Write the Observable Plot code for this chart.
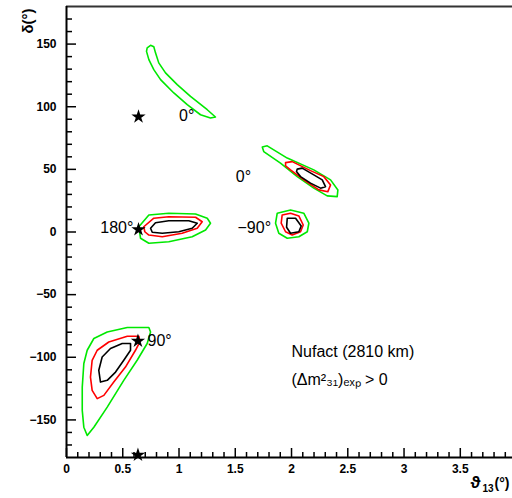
<!DOCTYPE html>
<html><head><meta charset="utf-8">
<script src="https://cdn.jsdelivr.net/npm/d3@7"></script>
<script src="https://cdn.jsdelivr.net/npm/@observablehq/plot@0.6"></script>
<style>
body{margin:0;background:#fff}
#chart{width:512px;height:498px;overflow:hidden}
</style>
</head><body><div id="chart"></div>
<script>
// ---- axis ticks ----
const xMajor = [0, 0.5, 1, 1.5, 2, 2.5, 3, 3.5];
const xMajorLabels = ["0", "0.5", "1", "1.5", "2", "2.5", "3", "3.5"];
const xMinor = [0.1,0.2,0.3,0.4,0.6,0.7,0.8,0.9,1.1,1.2,1.3,1.4,1.6,1.7,1.8,1.9,2.1,2.2,2.3,2.4,2.6,2.7,2.8,2.9,3.1,3.2,3.3,3.4,3.6,3.7,3.8,3.9];
const yMajor = [-150, -100, -50, 0, 50, 100, 150];
const yMajorLabels = ["−150", "−100", "−50", "0", "50", "100", "150"];
const yMinor = [-170,-160,-140,-130,-120,-110,-90,-80,-70,-60,-40,-30,-20,-10,10,20,30,40,60,70,80,90,110,120,130,140,160,170];

// ---- contours (theta13 [deg], delta [deg]) ----
const outerTop = [[0.717,147.0],[0.747,149.0],[0.776,147.8],[0.791,143.0],[0.820,135.0],[0.880,127.0],[0.984,117.6],[1.102,108.2],[1.251,97.6],[1.324,91.8],[1.280,91.0],[1.191,93.6],[1.073,101.6],[0.954,111.0],[0.836,121.6],[0.776,129.6],[0.732,137.6],[0.711,144.2]];

const outer180 = [[0.643,4.2],[0.732,13.6],[0.909,15.0],[1.147,14.4],[1.251,11.0],[1.280,7.0],[1.236,1.6],[1.117,-3.8],[0.909,-7.8],[0.732,-9.0],[0.658,-5.0]];
const middle180 = [[0.687,4.2],[0.776,11.0],[0.909,12.2],[1.147,11.8],[1.206,8.2],[1.162,3.0],[1.028,-1.0],[0.851,-3.8],[0.732,-2.4],[0.696,0.2]];
const inner180 = [[0.747,3.0],[0.791,7.4],[0.909,9.0],[1.087,9.0],[1.162,7.0],[1.117,3.0],[0.998,0.2],[0.851,-1.0],[0.762,-0.2]];

const outerM90 = [[1.873,15.0],[1.991,17.6],[2.109,15.0],[2.154,7.0],[2.140,0.2],[2.065,-3.8],[1.962,-5.0],[1.887,-1.0],[1.858,7.0]];
const middleM90 = [[1.917,13.6],[1.991,15.0],[2.065,12.8],[2.104,5.6],[2.080,0.2],[2.006,-2.4],[1.947,0.2],[1.908,7.0]];
const innerM90 = [[1.962,11.0],[2.036,11.0],[2.086,4.8],[2.065,0.2],[1.991,-1.0],[1.956,3.8]];

const outer0 = [[1.740,67.8],[1.784,68.8],[1.962,59.0],[2.198,49.6],[2.347,41.6],[2.412,33.6],[2.406,28.2],[2.317,28.8],[2.198,35.0],[2.051,44.2],[1.902,55.0],[1.753,64.2]];
const middle0 = [[1.947,55.4],[2.006,56.2],[2.169,49.0],[2.287,44.2],[2.347,37.6],[2.323,32.2],[2.243,33.6],[2.109,41.6],[1.991,49.6],[1.947,52.8]];
const inner0 = [[2.051,50.2],[2.095,51.0],[2.198,45.6],[2.273,41.6],[2.302,36.2],[2.258,35.0],[2.169,39.0],[2.080,44.2],[2.044,48.2]];

const outer90 = [[0.184,-162.4],[0.154,-155.8],[0.140,-142.4],[0.140,-123.8],[0.154,-105.0],[0.184,-94.4],[0.243,-85.0],[0.362,-79.8],[0.540,-76.2],[0.732,-76.2],[0.747,-79.8],[0.717,-89.0],[0.628,-102.4],[0.509,-118.4],[0.362,-139.8],[0.243,-155.8]];
const middle90 = [[0.273,-133.0],[0.228,-126.4],[0.213,-115.8],[0.228,-102.4],[0.273,-94.4],[0.376,-87.8],[0.540,-83.2],[0.643,-83.2],[0.652,-87.8],[0.613,-94.4],[0.524,-107.8],[0.420,-119.8],[0.332,-130.4]];
const inner90 = [[0.302,-119.8],[0.287,-110.4],[0.317,-99.8],[0.391,-93.0],[0.495,-89.0],[0.569,-89.0],[0.569,-94.4],[0.509,-102.4],[0.436,-111.8],[0.362,-118.4]];

const contourNames = ["outerTop","outer180","middle180","inner180","outerM90","middleM90","innerM90","outer0","middle0","inner0","outer90","middle90","inner90"];
const contourLevels = ["outer","outer","middle","inner","outer","middle","inner","outer","middle","inner","outer","middle","inner"];
const contourPoints = [outerTop,outer180,middle180,inner180,outerM90,middleM90,innerM90,outer0,middle0,inner0,outer90,middle90,inner90];

const levelNames = ["inner", "middle", "outer"];
const levelColors = ["#000000", "#ff0000", "#00e800"];

// ---- true points (stars) and labels ----
const starX = [0.64, 0.64, 0.635, 0.635];
const starY = [92, 2, -87, -178];

const labelText = ["0°", "0°", "180°", "−90°", "90°"];
const labelX = [1.0, 1.505, 0.3, 1.52, 0.72];
const labelY = [93, 44, 3, 3, -87];

const noteText = ["Nufact (2810 km)", "(Δm²₃₁)ₑₓₚ > 0"];
const noteX = [2.0, 2.0];
const noteY = [-96, -118];

// ---- build tables ----
const contourRows = [];
contourPoints.forEach((pts, i) => {
  pts.forEach(([x, y]) => contourRows.push({name: contourNames[i], level: contourLevels[i], x, y}));
});
const stars = starX.map((x, i) => ({x, y: starY[i]}));
const labels = labelText.map((t, i) => ({t, x: labelX[i], y: labelY[i]}));
const notes = noteText.map((t, i) => ({t, x: noteX[i], y: noteY[i]}));
const xFmt = d => xMajorLabels[xMajor.indexOf(d)];
const yFmt = d => yMajorLabels[yMajor.indexOf(d)];

const font = "'Liberation Sans', Arial, Helvetica, sans-serif";

const chart = Plot.plot({
  width: 512,
  height: 498,
  marginLeft: 66,
  marginRight: 0,
  marginTop: 6,
  marginBottom: 41,
  style: {fontFamily: font, fontSize: "12px", background: "white", color: "black"},
  x: {domain: [0, 3.964], axis: null},
  y: {domain: [-180, 180], axis: null},
  color: {domain: levelNames, range: levelColors},
  marks: [
    // contours
    Plot.line(contourRows, {x: "x", y: "y", z: "name", stroke: "level", strokeWidth: 1.6, curve: "linear-closed"}),
    // frame lines
    Plot.ruleY([180], {stroke: "#333", strokeWidth: 2}),
    Plot.ruleY([-180], {stroke: "black", strokeWidth: 2}),
    Plot.ruleX([0], {stroke: "black", strokeWidth: 2}),
    // y axis: labels, major ticks, minor ticks (inward)
    Plot.axisY(yMajor, {anchor: "left", label: null, tickSize: 0, tickPadding: 10, tickFormat: yFmt, fontSize: 12, fontWeight: "bold"}),
    Plot.axisY(yMajor, {anchor: "left", label: null, tickSize: 10, dx: 10, tickFormat: () => "", strokeWidth: 1.5}),
    Plot.axisY(yMinor, {anchor: "left", label: null, tickSize: 6, dx: 6, tickFormat: () => "", strokeWidth: 1.5}),
    // x axis
    Plot.axisX(xMajor, {anchor: "bottom", label: null, tickSize: 0, tickPadding: 7, tickFormat: xFmt, fontSize: 12, fontWeight: "bold"}),
    Plot.axisX(xMajor, {anchor: "bottom", label: null, tickSize: 9, dy: -9, tickFormat: () => "", strokeWidth: 1.5}),
    Plot.axisX(xMinor, {anchor: "bottom", label: null, tickSize: 5, dy: -5, tickFormat: () => "", strokeWidth: 1.5}),
    // stars
    Plot.dot(stars, {x: "x", y: "y", symbol: "star", fill: "black", r: 4.5}),
    // labels
    Plot.text(labels, {x: "x", y: "y", text: "t", textAnchor: "start", fontSize: 16}),
    Plot.text(notes, {x: "x", y: "y", text: "t", textAnchor: "start", fontSize: 16}),
    // axis titles
    Plot.text(["ϑ"], {frameAnchor: "bottom-right", dx: -42, dy: 30, textAnchor: "start", fontSize: 17, fontWeight: "bold"}),
    Plot.text(["13"], {frameAnchor: "bottom-right", dx: -30, dy: 34, textAnchor: "start", fontSize: 10, fontWeight: "bold"}),
    Plot.text(["(°)"], {frameAnchor: "bottom-right", dx: -18, dy: 30, textAnchor: "start", fontSize: 14, fontWeight: "bold"}),
    Plot.text(["δ(°)"], {frameAnchor: "top-left", dx: -44, dy: 2, rotate: -90, textAnchor: "end", fontSize: 15, fontWeight: "bold"})
  ]
});
document.getElementById("chart").appendChild(chart);
</script>
</body></html>
